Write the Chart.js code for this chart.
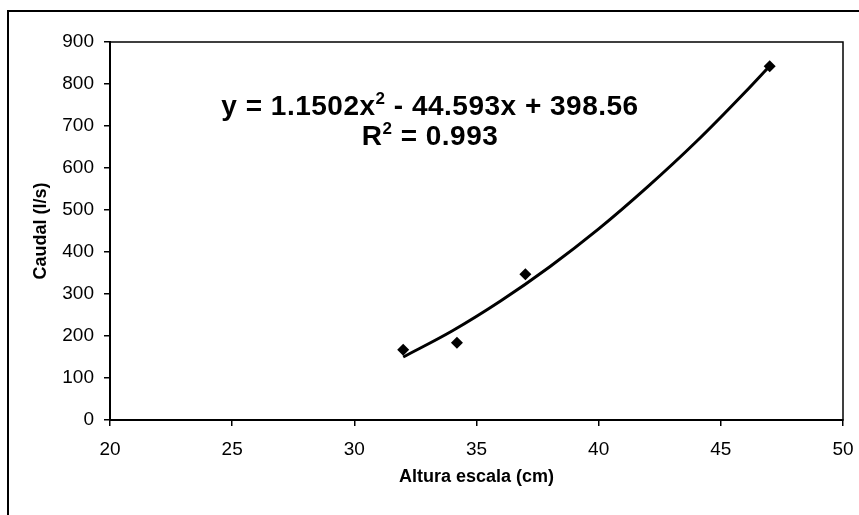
<!DOCTYPE html>
<html>
<head>
<meta charset="utf-8">
<script src="https://cdn.jsdelivr.net/npm/chart.js@4.4.1/dist/chart.umd.min.js"></script>
<style>
  html, body { margin: 0; padding: 0; background: #fff; overflow: hidden; }
  #frame { position: absolute; left: 7px; top: 10px; width: 1000px; height: 1000px;
           border-left: 2px solid #000; border-top: 2px solid #000; }
  #wrap { position: absolute; left: 0; top: 0; width: 859px; height: 515px; }
</style>
</head>
<body>
<div id="frame"></div>
<div id="wrap"><canvas id="graph" width="859" height="515"></canvas></div>
<script>
// measured points
const alturas = [32.0, 34.2, 37.0, 47.0];
const caudales = [167, 184, 347, 842];

// polynomial trendline
const trendX = [32, 34, 36, 38, 40, 42, 44, 46, 47];
const trendY = [150, 212, 284, 365, 455, 555, 663, 781, 843];

const xTicks = [20, 25, 30, 35, 40, 45, 50];
const yTicks = [0, 100, 200, 300, 400, 500, 600, 700, 800, 900];

const eqLine1 = ['y = 1.1502x', '2', ' - 44.593x + 398.56'];
const eqLine2 = ['R', '2', ' = 0.993'];

const FONT = '"Liberation Sans", Arial, sans-serif';

// draws the Excel trendline label (with superscripts)
const eqLabel = {
  id: 'eqLabel',
  afterDraw(chart) {
    const ctx = chart.ctx;
    const cx = 430;
    const big = 'bold 28px ' + FONT, small = 'bold 17px ' + FONT;
    function line(parts, baseY) {
      ctx.letterSpacing = '0.5px';
      ctx.font = big; const w0 = ctx.measureText(parts[0]).width, w2 = ctx.measureText(parts[2]).width;
      ctx.font = small; const w1 = ctx.measureText(parts[1]).width;
      let x = cx - (w0 + w1 + w2) / 2;
      ctx.fillStyle = '#000';
      ctx.textBaseline = 'alphabetic';
      ctx.textAlign = 'left';
      ctx.font = big; ctx.fillText(parts[0], x, baseY); x += w0;
      ctx.font = small; ctx.fillText(parts[1], x, baseY - 11); x += w1;
      ctx.font = big; ctx.fillText(parts[2], x, baseY);
    }
    ctx.save();
    line(eqLine1, 115);
    line(eqLine2, 145);
    ctx.letterSpacing = '0px';
    // plot area box (top and right edges)
    const a = chart.chartArea;
    ctx.strokeStyle = '#000';
    ctx.lineWidth = 1.5;
    ctx.strokeRect(a.left, a.top, a.right - a.left, a.bottom - a.top);
    ctx.restore();
  }
};

var context = document.getElementById('graph').getContext('2d');
const chart = new Chart(context, {
  type: 'scatter',
  data: {
    datasets: [
      {
        label: 'Caudal',
        data: alturas.map((x, i) => ({x: x, y: caudales[i]})),
        pointStyle: 'rectRot',
        pointRadius: 6,
        backgroundColor: '#000',
        borderColor: '#000',
        borderWidth: 0,
        order: 1
      },
      {
        label: 'Polinómica',
        type: 'line',
        data: trendX.map((x, i) => ({x: x, y: trendY[i]})),
        borderColor: '#000',
        borderWidth: 3,
        pointRadius: 0,
        fill: false,
        cubicInterpolationMode: 'monotone',
        order: 2
      }
    ]
  },
  plugins: [eqLabel],
  options: {
    responsive: false,
    animation: false,
    layout: { padding: { left: 0, top: 42, right: 16, bottom: 25 } },
    plugins: { legend: { display: false }, tooltip: { enabled: false } },
    scales: {
      x: {
        type: 'linear', min: 20, max: 50,
        afterFit: s => { s.height = 70; s.paddingLeft = 0; s.paddingRight = 0; },
        afterBuildTicks: s => { s.ticks = xTicks.map(v => ({value: v})); },
        ticks: { color: '#000', font: { family: FONT, size: 19 }, padding: 12, maxRotation: 0 },
        grid: { drawOnChartArea: false, drawTicks: true, tickLength: 6, color: '#000', lineWidth: 1.5 },
        border: { display: true, color: '#000', width: 2 },
        title: { display: true, text: 'Altura escala (cm)', color: '#000',
                 font: { family: FONT, size: 18, weight: 'bold' }, padding: { top: 0, bottom: 2 } }
      },
      y: {
        min: 0, max: 900,
        afterFit: s => { s.width = 110; },
        afterBuildTicks: s => { s.ticks = yTicks.map(v => ({value: v})); },
        ticks: { color: '#000', font: { family: FONT, size: 19 }, padding: 10 },
        grid: { drawOnChartArea: false, drawTicks: true, tickLength: 6, color: '#000', lineWidth: 1.5 },
        border: { display: true, color: '#000', width: 2 },
        title: { display: true, text: 'Caudal (l/s)', color: '#000',
                 font: { family: FONT, size: 18, weight: 'bold' }, padding: { top: 30, bottom: 0 } }
      }
    }
  }
});
</script>
</body>
</html>
